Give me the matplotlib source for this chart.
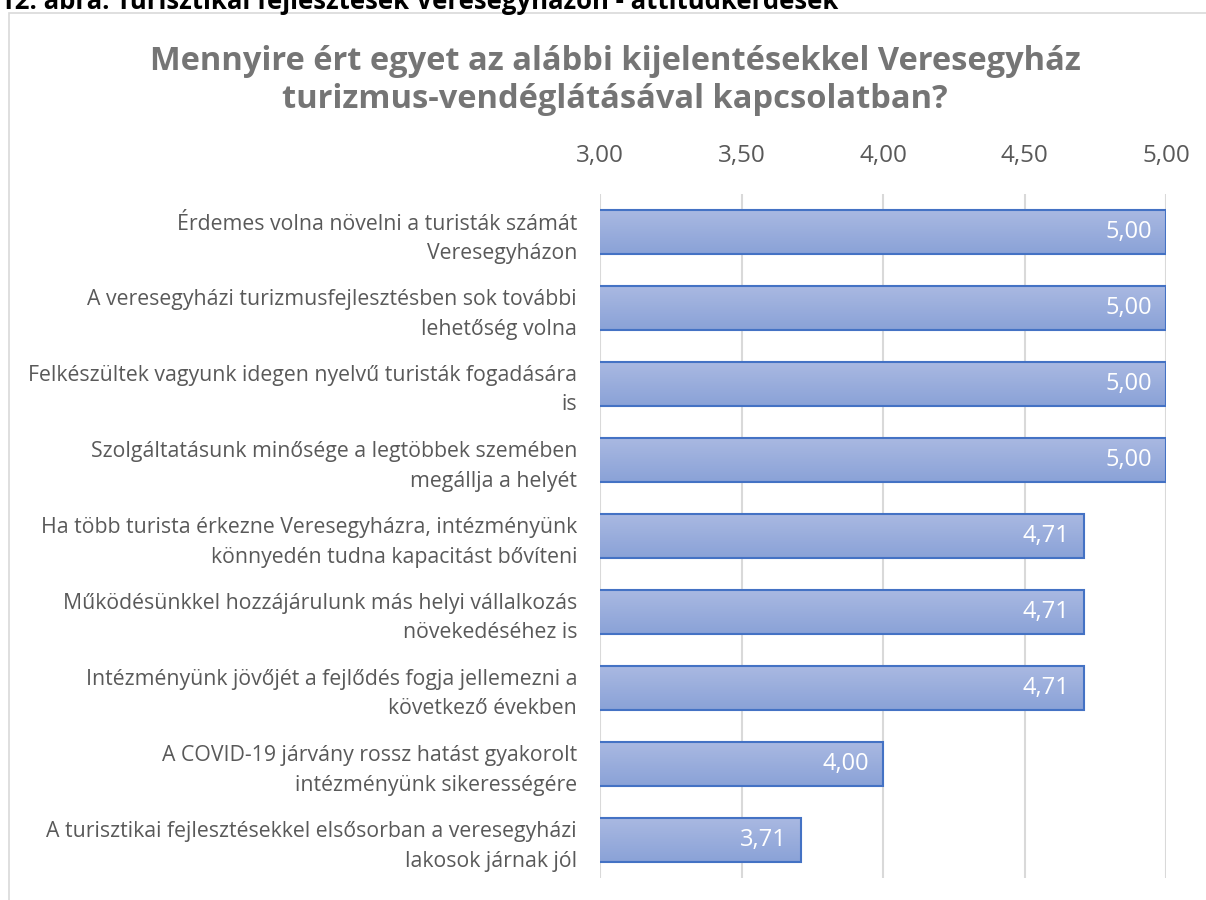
import matplotlib.pyplot as plt
import matplotlib.patches as mpatches
from matplotlib.colors import LinearSegmentedColormap
import numpy as np

plt.rcParams['font.family'] = ['Open Sans', 'DejaVu Sans']

labels = [
    "Érdemes volna növelni a turisták számát\nVeresegyházon",
    "A veresegyházi turizmusfejlesztésben sok további\nlehetőség volna",
    "Felkészültek vagyunk idegen nyelvű turisták fogadására\nis",
    "Szolgáltatásunk minősége a legtöbbek szemében\nmegállja a helyét",
    "Ha több turista érkezne Veresegyházra, intézményünk\nkönnyedén tudna kapacitást bővíteni",
    "Működésünkkel hozzájárulunk más helyi vállalkozás\nnövekedéséhez is",
    "Intézményünk jövőjét a fejlődés fogja jellemezni a\nkövetkező években",
    "A COVID-19 járvány rossz hatást gyakorolt\nintézményünk sikerességére",
    "A turisztikai fejlesztésekkel elsősorban a veresegyházi\nlakosok járnak jól",
]
values = [5.00, 5.00, 5.00, 5.00, 4.71, 4.71, 4.71, 4.00, 3.71]
ticks = [3.0, 3.5, 4.0, 4.5, 5.0]

fig = plt.figure(figsize=(12.06, 9), dpi=100)

# caption (cut off at top) and frame
fig.text(0.0, 1.0 - 9 / 900, "12. ábra: Turisztikai fejlesztések Veresegyházon - attitűdkérdések",
         fontsize=18.5, fontweight='bold', color='black', va='baseline', ha='left')
fig.patches.append(mpatches.Rectangle((9 / 1206, -0.01), 1.0, 1 - 13 / 900 + 0.01,
                                      transform=fig.transFigure, fill=False,
                                      edgecolor='#d9d9d9', linewidth=1.2))

fig.text(615 / 1206, 1 - 81 / 900,
         "Mennyire ért egyet az alábbi kijelentésekkel Veresegyház\nturizmus-vendéglátásával kapcsolatban?",
         ha='center', va='center', fontsize=23.5, fontweight='bold', color='#757575',
         linespacing=1.2)

ax = fig.add_axes([600 / 1206, 1 - 878 / 900, 566 / 1206, 684 / 900])
y = np.arange(len(values))
bars = ax.barh(y, values, height=0.58, color='none', edgecolor='#4472c4',
               linewidth=1.5, zorder=3)

ax.set_xlim(3, 5)
ax.set_ylim(len(values) - 0.5, -0.5)

# gradient fill inside each bar
grad = np.linspace(0, 1, 100).reshape(-1, 1)
cmap = LinearSegmentedColormap.from_list('g', ['#aab9e2', '#8aa2d7'])
xmin = ax.get_xlim()[0]
for b in bars:
    y0 = b.get_y()
    im = ax.imshow(grad, cmap=cmap, aspect='auto', origin='upper',
                   extent=[xmin, b.get_width(), y0 + b.get_height(), y0], zorder=2)
    im.set_clip_path(b)
ax.set_xlim(3, 5)
ax.set_ylim(len(values) - 0.5, -0.5)

for yi, v in zip(y, values):
    ax.text(v - 0.05, yi, f"{v:.2f}".replace('.', ','), ha='right', va='center',
            color='white', fontsize=17, zorder=4)

ax.set_xticks(ticks)
ax.set_xticklabels([f"{t:.2f}".replace('.', ',') for t in ticks], fontsize=17.5, color='#595959')
ax.xaxis.tick_top()
ax.tick_params(axis='x', length=0, pad=19)
ax.set_yticks(y)
ax.set_yticklabels(labels, fontsize=15.3, color='#595959', linespacing=1.5)
ax.tick_params(axis='y', length=0, pad=16.5)
ax.grid(axis='x', color='#d9d9d9', linewidth=1.5, zorder=0)
ax.set_axisbelow(True)
for s in ax.spines.values():
    s.set_visible(False)
ax.set_facecolor('none')

fig.savefig('out.png', dpi=100)
